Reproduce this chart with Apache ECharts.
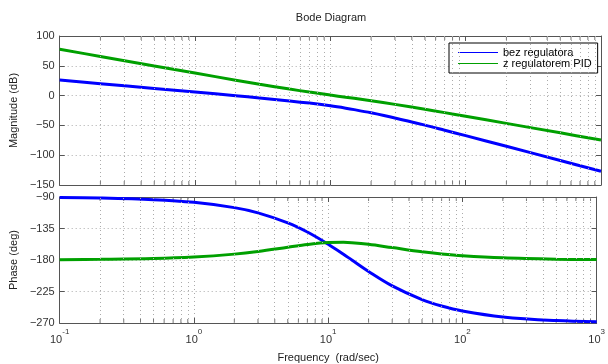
<!DOCTYPE html>
<html><head><meta charset="utf-8">
<script src="https://cdn.jsdelivr.net/npm/echarts@6/dist/echarts.min.js"></script>
<style>html,body{margin:0;padding:0;background:#fff}#c{width:608px;height:364px}</style>
</head><body><div id="c"></div>
<script>
// Data
const frequencies = [0.1, 0.2, 0.5, 1, 2, 3, 5, 7, 10, 13, 15, 20, 30, 50, 70, 100, 200, 500, 1000];
const magBez   = [26.0, 20.0, 12.0, 6.0, -0.2, -3.9, -8.9, -12.6, -17.2, -21.1, -23.5, -28.9, -37.5, -49.6, -58.1, -67.2, -85.1, -108.9, -127.0];
const magPid   = [77.7, 65.7, 49.8, 37.8, 25.9, 19.1, 10.9, 5.9, 0.9, -2.7, -4.6, -8.7, -14.7, -22.9, -28.6, -34.7, -46.6, -62.5, -74.6];
const phaseBez = [-90.8, -91.5, -93.8, -97.6, -105.2, -112.6, -126.9, -140.0, -157.4, -171.8, -180.0, -196.3, -216.9, -236.6, -245.8, -252.9, -261.4, -266.6, -268.3];
const phasePid = [-179.6, -179.1, -177.9, -175.7, -171.6, -167.9, -161.8, -157.8, -155.0, -154.7, -155.2, -157.5, -162.3, -168.3, -171.4, -173.9, -176.9, -178.8, -179.4];
const seriesNames = ['bez regulatora', 'z regulatorem PID'];
const freqExponents = ['-1', '0', '1', '2', '3'];
const minorFreqs = [0.2,0.3,0.4,0.5,0.6,0.7,0.8,0.9, 2,3,4,5,6,7,8,9, 20,30,40,50,60,70,80,90, 200,300,400,500,600,700,800,900];
const magRange = [-150, 100], magStep = 50;
const phaseRange = [-270, -90], phaseStep = 45;
const freqRange = [0.1, 1000];

const FONT = 'Liberation Sans, Arial, Helvetica, sans-serif';
const AX = '#555';
const TXT = '#333';
const DOT = { type: [1, 3], color: '#ababab', width: 1 };

function xAx(grid, pos, labels) {
  return {
    type: 'log', logBase: 10, gridIndex: grid, position: pos,
    min: freqRange[0], max: freqRange[1],
    axisLine: { show: true, onZero: false, lineStyle: { color: AX, width: 1 } },
    axisTick: { show: true, inside: true, length: 5, lineStyle: { color: AX } },
    splitLine: { show: pos === 'bottom', lineStyle: DOT },
    axisLabel: labels ? {
      show: true, margin: 5, showMinLabel: true, showMaxLabel: true,
      formatter: (v, i) => '{b|10}{s|' + freqExponents[i] + '}',
      rich: {
        b: { fontSize: 11, fontFamily: FONT, color: TXT, lineHeight: 17, verticalAlign: 'bottom' },
        s: { fontSize: 8, fontFamily: FONT, color: TXT, verticalAlign: 'top', lineHeight: 9 }
      }
    } : { show: false },
    name: labels ? 'Frequency  (rad/sec)' : '',
    nameLocation: 'middle', nameGap: 29,
    nameTextStyle: { fontSize: 11, fontFamily: FONT, color: '#222' }
  };
}
function yAx(grid, pos, range, step, name) {
  return {
    type: 'value', gridIndex: grid, position: pos,
    min: range[0], max: range[1], interval: step,
    axisLine: { show: true, onZero: false, lineStyle: { color: AX, width: 1 } },
    axisTick: { show: true, inside: true, length: 5, lineStyle: { color: AX } },
    splitLine: { show: pos === 'left', lineStyle: DOT },
    axisLabel: pos === 'left' ? {
      show: true, margin: 5, fontSize: 11, fontFamily: FONT, color: TXT,
      formatter: v => String(v).replace('-', '\u2212')
    } : { show: false },
    name: name || '', nameLocation: 'middle', nameGap: 38, nameRotate: 90,
    nameTextStyle: { fontSize: 11, fontFamily: FONT, color: '#222' }
  };
}
function pairs(ys) { return frequencies.map((f, i) => [f, ys[i]]); }
function tickSeries(xi, yi, yv, off) {
  return {
    type: 'scatter', xAxisIndex: xi, yAxisIndex: yi, silent: true, clip: false, z: 1,
    symbol: 'rect', symbolSize: [1, 4], symbolOffset: [0, off],
    itemStyle: { color: AX },
    data: minorFreqs.map(f => [f, yv])
  };
}
function gridLines(xi, yi) {
  return {
    type: 'scatter', xAxisIndex: xi, yAxisIndex: yi, silent: true, z: 1,
    symbolSize: 0, data: [],
    markLine: {
      silent: true, symbol: ['none', 'none'], label: { show: false },
      lineStyle: DOT, animation: false,
      emphasis: { disabled: true },
      data: minorFreqs.map(f => ({ xAxis: f }))
    }
  };
}
function lineSeries(name, xi, yi, ys, color) {
  return {
    name, type: 'line', xAxisIndex: xi, yAxisIndex: yi,
    data: pairs(ys), smooth: 0.35, symbol: 'none', showSymbol: false,
    lineStyle: { color, width: 3 }, itemStyle: { color }, z: 3,
    emphasis: { disabled: true }
  };
}

const chart = echarts.init(document.getElementById('c'), null, { renderer: 'canvas' });
chart.setOption({
  animation: false,
  backgroundColor: '#fff',
  title: {
    text: 'Bode Diagram', left: 326, top: 7, textAlign: 'center',
    textStyle: { fontSize: 11, fontWeight: 'normal', fontFamily: FONT, color: '#222' }
  },
  legend: {
    data: seriesNames, orient: 'vertical', left: 449, top: 43,
    padding: [4, 6, 4, 9], itemGap: 0, itemWidth: 40, itemHeight: 10,
    icon: 'path://M0,0L40,0L40,1L0,1Z', symbolKeepAspect: true,
    backgroundColor: '#fff', borderColor: '#000', borderWidth: 1, borderRadius: 0,
    textStyle: { fontSize: 11, fontFamily: FONT, color: '#000' },
    selectedMode: false
  },
  grid: [
    { left: 51, right: 7, top: 36, height: 149 },
    { left: 51, right: 7, top: 197, height: 131 }
  ],
  xAxis: [xAx(0, 'bottom', false), xAx(0, 'top', false), xAx(1, 'bottom', true), xAx(1, 'top', false)],
  yAxis: [
    yAx(0, 'left', magRange, magStep, 'Magnitude (dB)'), yAx(0, 'right', magRange, magStep),
    yAx(1, 'left', phaseRange, phaseStep, 'Phase (deg)'), yAx(1, 'right', phaseRange, phaseStep)
  ],
  series: [
    gridLines(0, 0), gridLines(2, 2),
    tickSeries(0, 0, magRange[0], -2), tickSeries(1, 0, magRange[1], 2),
    tickSeries(2, 2, phaseRange[0], -2), tickSeries(3, 2, phaseRange[1], 2),
    lineSeries(seriesNames[0], 0, 0, magBez, '#0000ff'),
    lineSeries(seriesNames[1], 0, 0, magPid, '#00a000'),
    lineSeries(seriesNames[0], 2, 2, phaseBez, '#0000ff'),
    lineSeries(seriesNames[1], 2, 2, phasePid, '#00a000')
  ]
});
</script>
</body></html>
